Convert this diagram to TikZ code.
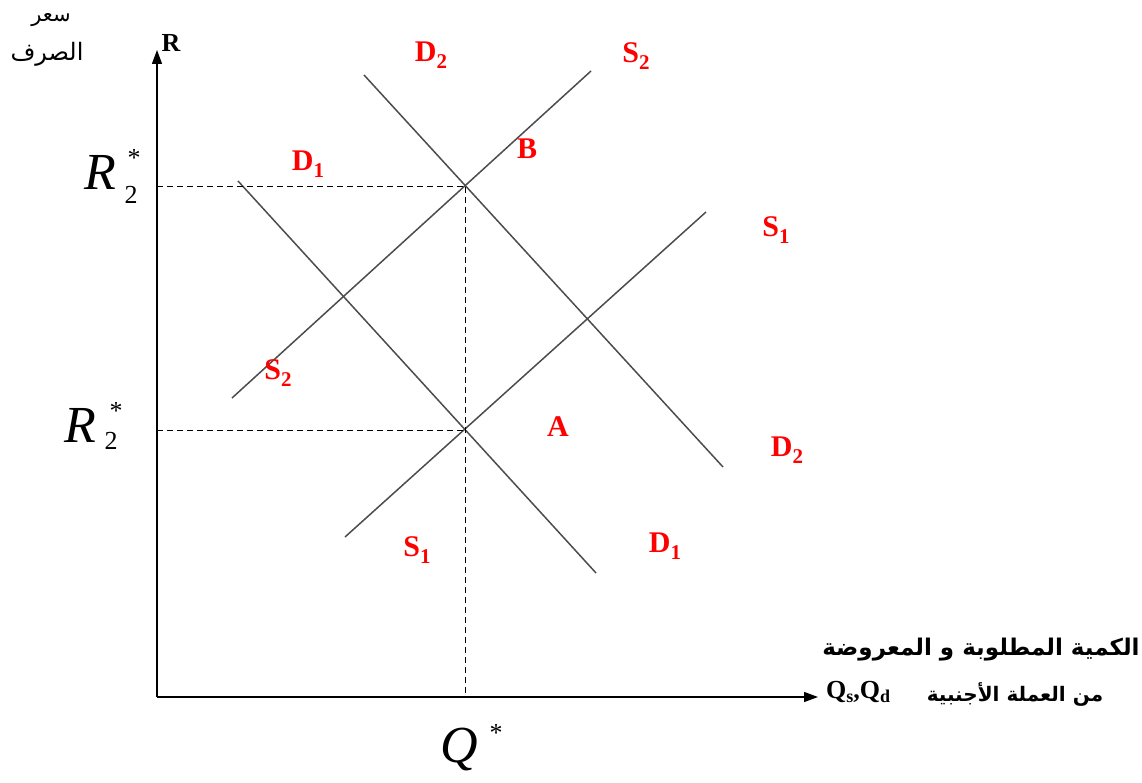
\documentclass[tikz,border=0pt]{standalone}
\usepackage{fontspec}
\setmainfont{Liberation Serif}
\newfontfamily\arabicfont[Script=Arabic]{DejaVu Sans}
\TeXXeTstate=1
\usetikzlibrary{arrows.meta}
\newcommand{\lab}[2]{\fontsize{30}{30}\selectfont\bfseries #1\raisebox{-0.22em}{\fontsize{21}{21}\selectfont #2}}
\tikzset{
  curve/.style={draw=black!70, line width=1.5pt},
  guide/.style={draw=black, line width=1pt, dash pattern=on 6pt off 4pt},
  axis/.style={draw=black, line width=1.3pt, -{Triangle[length=14pt,width=10pt]}},
  redlab/.style={text=red, inner sep=0pt, anchor=center},
  ar/.style={inner sep=0pt, anchor=center, font=\arabicfont\bfseries\fontsize{23}{26}\selectfont},
  big/.style={inner sep=0pt, anchor=center, font=\fontsize{52}{52}\selectfont\itshape},
  small/.style={inner sep=0pt, anchor=center, font=\fontsize{26}{26}\selectfont},
}
\begin{document}
\begin{tikzpicture}[x=1pt,y=-1pt]
\useasboundingbox (0,0) rectangle (1142,783);
% axes
\coordinate (O) at (157,697);
\coordinate (Ytop) at (157,50);
\coordinate (Xend) at (818,697);
\draw[axis] (O) -- (Ytop);
\draw[axis] (O) -- (Xend);
% curve endpoints
\coordinate (d1a) at (238,181); \coordinate (d1b) at (596,573);
\coordinate (s1a) at (345,537); \coordinate (s1b) at (706,212);
\coordinate (d2a) at (364,75);  \coordinate (d2b) at (723,467);
\coordinate (s2a) at (232,398); \coordinate (s2b) at (591,71);
\draw[curve] (d1a) -- (d1b);
\draw[curve] (s1a) -- (s1b);
\draw[curve] (d2a) -- (d2b);
\draw[curve] (s2a) -- (s2b);
% equilibrium points and guides
\coordinate (EB) at (465,187);
\coordinate (EA) at (465,430);
\coordinate (yB) at (157,187);
\coordinate (yA) at (157,430);
\coordinate (xQ) at (465,697);
\draw[guide] (yB) -- (EB);
\draw[guide] (yA) -- (EA);
\draw[guide] (EB) -- (xQ);
% red labels
\node[redlab] (lD2t) at (431,55) {\lab{D}{2}};
\node[redlab] (lS2t) at (636,56) {\lab{S}{2}};
\node[redlab] (lB) at (527,152) {\lab{B}{}};
\node[redlab] (lD1t) at (308,164) {\lab{D}{1}};
\node[redlab] (lS1r) at (776,230) {\lab{S}{1}};
\node[redlab] (lS2l) at (278,373) {\lab{S}{2}};
\node[redlab] (lA) at (558,430) {\lab{A}{}};
\node[redlab] (lD2r) at (787,450) {\lab{D}{2}};
\node[redlab] (lS1b) at (417,550) {\lab{S}{1}};
\node[redlab] (lD1b) at (665,546) {\lab{D}{1}};
% axis labels
\node[inner sep=0pt] (Rax) at (171,43) {\fontsize{26}{26}\selectfont\bfseries R};
\node[inner sep=0pt, anchor=west] (QsQd) at (826,692) {\fontsize{26}{26}\selectfont\bfseries Q\raisebox{-0.15em}{\fontsize{18}{18}\selectfont s},Q\raisebox{-0.15em}{\fontsize{18}{18}\selectfont d}};
\node[ar] (ar1) at (981,650) {\beginR الكمية المطلوبة و المعروضة\endR};
\node[ar, font=\arabicfont\bfseries\fontsize{20}{24}\selectfont] (ar2) at (1015,694) {\beginR من العملة الأجنبية\endR};
\node[ar, font=\arabicfont\fontsize{21}{24}\selectfont] (ar3) at (51,20) {\beginR سعر\endR};
\node[ar, font=\arabicfont\fontsize{24}{24}\selectfont] (ar4) at (47,54) {\beginR الصرف\endR};
% R2* labels
\node[big] (Rup) at (100,172) {R};
\node[small] (Rupst) at (134,158) {*};
\node[small] (Rupsub) at (131,195) {2};
\node[big] (Rlo) at (80,425) {R};
\node[small] (Rlost) at (116,411) {*};
\node[small] (Rlosub) at (111,441) {2};
\node[big] (Qs) at (459,749) {Q};
\node[small] (Qst) at (496,733) {*};
\end{tikzpicture}
\end{document}
